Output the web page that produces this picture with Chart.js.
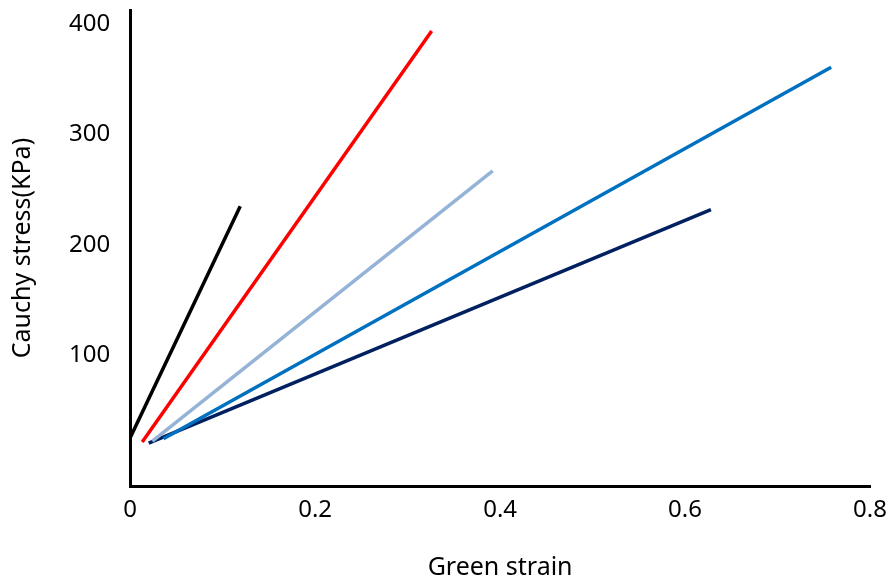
<!DOCTYPE html>
<html>
<head>
<meta charset="utf-8">
<script src="https://cdn.jsdelivr.net/npm/chart.js@4/dist/chart.umd.min.js"></script>
<style>
  html, body { margin: 0; padding: 0; background: #fff; }
  #wrap { width: 893px; height: 583px; }
</style>
</head>
<body>
<div id="wrap"><canvas id="stressChart"></canvas></div>
<script>
// strain / stress end points of each line
var blackStrain = [0, 0.119];
var blackStress = [25, 235];
var redStrain = [0.013, 0.326];
var redStress = [21, 394];
var lightBlueStrain = [0.024, 0.392];
var lightBlueStress = [22, 267];
var blueStrain = [0.036, 0.758];
var blueStress = [24, 361];
var navyStrain = [0.02, 0.628];
var navyStress = [20, 232];

var xTicks = [0, 0.2, 0.4, 0.6, 0.8];
var yTicks = [100, 200, 300, 400];

function pts(xs, ys) {
    return xs.map(function (x, i) { return { x: x, y: ys[i] }; });
}

function line(label, xs, ys, color) {
    return {
        label: label,
        data: pts(xs, ys),
        borderColor: color,
        backgroundColor: color,
        borderWidth: 3.5,
        pointRadius: 0,
        fill: false
    };
}

var tickFont = { family: '"Noto Sans", "Open Sans", sans-serif', size: 24 };
var titleFont = { family: '"Noto Sans", "Open Sans", sans-serif', size: 25 };

// drop the edge padding chart.js reserves for end labels
function noEdgePad(scale) {
    scale.paddingTop = 0;
    scale.paddingBottom = 0;
    scale.paddingLeft = 0;
    scale.paddingRight = 0;
}

var ctx = document.getElementById('stressChart').getContext('2d');
var stressChart = new Chart(ctx, {
    type: 'line',
    data: {
        datasets: [
            line('A', blackStrain, blackStress, '#000000'),
            line('B', redStrain, redStress, '#ff0000'),
            line('C', lightBlueStrain, lightBlueStress, '#95b3d7'),
            line('D', blueStrain, blueStress, '#0070c0'),
            line('E', navyStrain, navyStress, '#002060')
        ]
    },
    options: {
        responsive: true,
        maintainAspectRatio: false,
        animation: false,
        layout: { padding: { left: 8, right: 23, top: 10, bottom: 0 } },
        plugins: {
            legend: { display: false },
            tooltip: { enabled: false }
        },
        scales: {
            x: {
                type: 'linear',
                min: 0,
                max: 0.8,
                afterBuildTicks: function (scale) {
                    scale.ticks = xTicks.map(function (v) { return { value: v }; });
                },
                afterFit: noEdgePad,
                grid: { display: false, drawTicks: false },
                border: { color: '#000', width: 3 },
                ticks: { color: '#000', font: tickFont, padding: 10, maxRotation: 0 },
                title: { display: true, text: 'Green strain', color: '#000', font: titleFont, padding: { top: 18, bottom: 0 } }
            },
            y: {
                type: 'linear',
                min: -19,
                max: 413,
                afterBuildTicks: function (scale) {
                    scale.ticks = yTicks.map(function (v) { return { value: v }; });
                },
                afterFit: noEdgePad,
                grid: { display: false, drawTicks: false },
                border: { color: '#000', width: 3 },
                ticks: { color: '#000', font: tickFont, padding: 20 },
                title: { display: true, text: 'Cauchy stress(KPa)', color: '#000', font: titleFont, padding: { top: 0, bottom: 11 } }
            }
        }
    }
});
</script>
</body>
</html>
